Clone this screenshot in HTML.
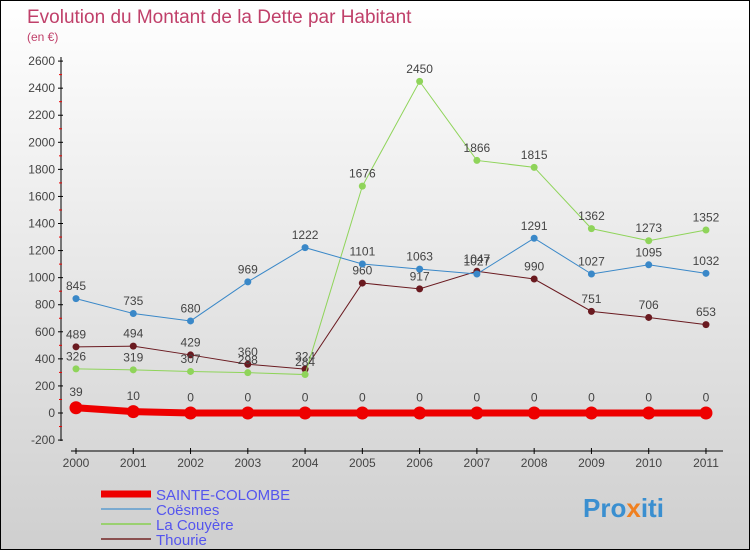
<!DOCTYPE html>
<html><head><meta charset="utf-8"><style>
body{margin:0}
#c{width:748px;height:548px;border:1px solid #000;background:linear-gradient(#fff,#cfcfcf);position:relative;font-family:"Liberation Sans",sans-serif;overflow:hidden}
svg text{font-family:"Liberation Sans",sans-serif}
</style></head><body>
<div id="c">
<svg width="748" height="548" id="s">
<text x="26" y="22" font-size="19" fill="#c0406a">Evolution du Montant de la Dette par Habitant</text>
<text x="26" y="40" font-size="12" fill="#c0406a">(en €)</text>
<g id="g"></g>
<text x="582" y="516" font-size="26" font-weight="bold" fill="#3a8fd0">Pro<tspan fill="#f08020">x</tspan>iti</text>
</svg></div>
<script>
const years=["2000","2001","2002","2003","2004","2005","2006","2007","2008","2009","2010","2011"];
const yTicks=[-200,0,200,400,600,800,1000,1200,1400,1600,1800,2000,2200,2400,2600];
const sainte=[39,10,0,0,0,0,0,0,0,0,0,0];
const coesmes=[845,735,680,969,1222,1101,1063,1027,1291,1027,1095,1032];
const couyere=[326,319,307,298,284,1676,2450,1866,1815,1362,1273,1352];
const thourie=[489,494,429,360,324,960,917,1047,990,751,706,653];
const NS="http://www.w3.org/2000/svg",g=document.getElementById('g');
const X=i=>75+i*57.27, Y=v=>412-v*27.07/200;
function el(t,a,n){const e=document.createElementNS(NS,t);for(const k in a)e.setAttribute(k,a[k]);


g.appendChild(e);return e;}
el('line',{x1:60,y1:56,x2:60,y2:440,stroke:'#000'},'y-axis');
yTicks.forEach(v=>{el('line',{x1:57,x2:62,y1:Y(v),y2:Y(v),stroke:'#000'},'y-tick');
if(v<2600)el('line',{x1:58,x2:61,y1:Y(v+100),y2:Y(v+100),stroke:'#e00'},'y-minor-tick');
const t=el('text',{x:54,y:Y(v)+4,'font-size':12,fill:'#444','text-anchor':'end'},'y-tick-label');t.textContent=v;});
el('line',{x1:70,y1:450,x2:722,y2:450,stroke:'#000'},'x-axis');
years.forEach((y,i)=>{el('line',{x1:X(i),x2:X(i),y1:447,y2:453,stroke:'#000'},'x-tick');
const t=el('text',{x:X(i),y:466,'font-size':12,fill:'#444','text-anchor':'middle'},'x-tick-label');t.textContent=y;});
function series(d,col,w,r,name){
el('polyline',{points:d.map((v,i)=>X(i)+','+Y(v)).join(' '),fill:'none',stroke:col,'stroke-width':w},name+'-line');
d.forEach((v,i)=>{el('circle',{cx:X(i),cy:Y(v),r:r,fill:col},name+'-point');
const t=el('text',{x:X(i),y:Y(v)-(r+5),'font-size':12,fill:'#444','text-anchor':'middle'},name+'-value');t.textContent=v;});}
series(thourie,'#6a1a20',1,3.5,'thourie');
series(couyere,'#8fd45a',1,3.5,'la-couyere');
series(coesmes,'#3a88c8',1,3.5,'coesmes');
series(sainte,'#ee0000',7,6.5,'sainte-colombe');
const leg=[['SAINTE-COLOMBE','#ee0000',7],['Coësmes','#7aaad0',2],['La Couyère','#9ad070',2],['Thourie','#8a5050',2]];
leg.forEach((l,i)=>{const y=493+i*15;el('line',{x1:100,x2:150,y1:y,y2:y,stroke:l[1],'stroke-width':l[2]},'legend-swatch');
const t=el('text',{x:155,y:y+6,'font-size':15,fill:'#5555ee'},'legend-entry');t.textContent=l[0];});
</script></body></html>
